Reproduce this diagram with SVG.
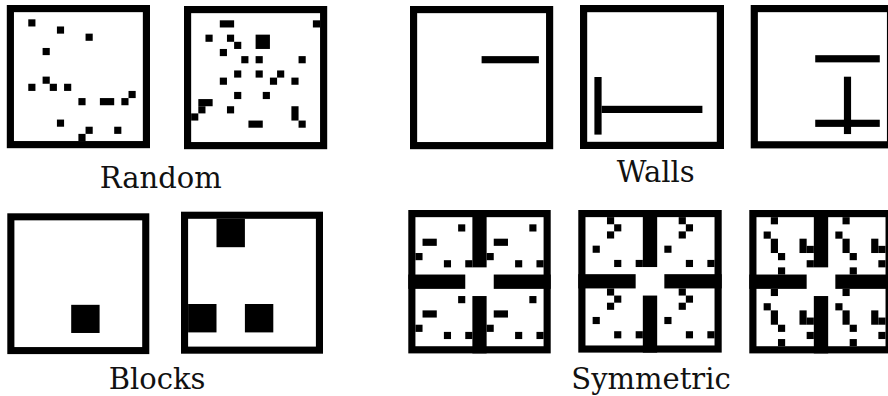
<svg xmlns="http://www.w3.org/2000/svg" xmlns:xlink="http://www.w3.org/1999/xlink" width="888" height="396" viewBox="0 0 888 396">
<style>
.frame{fill:#fff;stroke:#000;stroke-width:1}
.c{fill:#000}
.lbl{font-family:"DejaVu Serif","Liberation Serif",serif;font-size:29px;fill:#111;text-anchor:middle}
</style>
<defs>
<g id="q8">
<rect class="c" x="7" y="2" width="1" height="1"/>
<rect class="c" x="2" y="4" width="2" height="1"/>
<rect class="c" x="1" y="6" width="1" height="1"/>
<rect class="c" x="5" y="7" width="1" height="1"/>
<rect class="c" x="8" y="7" width="1" height="1"/>
</g>
<g id="q9">
<rect class="c" x="4" y="1" width="1" height="1"/>
<rect class="c" x="5" y="2" width="1" height="1"/>
<rect class="c" x="4" y="3" width="1" height="1"/>
<rect class="c" x="2" y="5" width="1" height="1"/>
<rect class="c" x="5" y="7" width="1" height="1"/>
<rect class="c" x="8" y="7" width="1" height="1"/>
</g>
<g id="q10">
<rect class="c" x="3" y="1" width="1" height="1"/>
<rect class="c" x="2" y="3" width="1" height="1"/>
<rect class="c" x="3" y="4" width="1" height="2"/>
<rect class="c" x="4" y="6" width="1" height="1"/>
<rect class="c" x="7" y="4" width="1" height="2"/>
<rect class="c" x="8" y="5" width="1" height="1"/>
<rect class="c" x="8" y="7" width="1" height="1"/>
<rect class="c" x="4" y="8" width="1" height="1"/>
</g>
<g id="cross">
<rect class="c" x="9" y="0" width="2" height="8"/>
<rect class="c" x="9" y="12" width="2" height="8"/>
<rect class="c" x="0" y="9" width="8" height="2"/>
<rect class="c" x="12" y="9" width="8" height="2"/>
</g>
</defs>

<g id="random1" transform="translate(6.8,5) scale(7.16)">
<rect class="frame" x="0.5" y="0.5" width="19" height="19"/>
<rect class="c" x="3" y="2" width="1" height="1"/>
<rect class="c" x="7" y="3" width="1" height="1"/>
<rect class="c" x="11" y="4" width="1" height="1"/>
<rect class="c" x="5" y="6" width="1" height="1"/>
<rect class="c" x="5" y="10" width="1" height="1"/>
<rect class="c" x="3" y="11" width="1" height="1"/>
<rect class="c" x="6" y="11" width="1" height="1"/>
<rect class="c" x="8" y="11" width="1" height="1"/>
<rect class="c" x="10" y="13" width="1" height="1"/>
<rect class="c" x="13" y="13" width="2" height="1"/>
<rect class="c" x="16" y="13" width="1" height="1"/>
<rect class="c" x="17" y="12" width="1" height="1"/>
<rect class="c" x="7" y="16" width="1" height="1"/>
<rect class="c" x="11" y="17" width="1" height="1"/>
<rect class="c" x="15" y="17" width="1" height="1"/>
<rect class="c" x="10" y="18" width="1" height="1"/>
</g>

<g id="random2" transform="translate(184,6) scale(7.16)">
<rect class="frame" x="0.5" y="0.5" width="19" height="19"/>
<rect class="c" x="5" y="2" width="2" height="1"/>
<rect class="c" x="18" y="2" width="1" height="1"/>
<rect class="c" x="3" y="4" width="1" height="1"/>
<rect class="c" x="6" y="4" width="1" height="1"/>
<rect class="c" x="7" y="5" width="1" height="1"/>
<rect class="c" x="10" y="4" width="2" height="2"/>
<rect class="c" x="5" y="6" width="1" height="1"/>
<rect class="c" x="8" y="7" width="1" height="1"/>
<rect class="c" x="10" y="7" width="1" height="1"/>
<rect class="c" x="16" y="7" width="1" height="1"/>
<rect class="c" x="7" y="9" width="1" height="1"/>
<rect class="c" x="10" y="9" width="1" height="1"/>
<rect class="c" x="13" y="9" width="1" height="1"/>
<rect class="c" x="12" y="10" width="1" height="1"/>
<rect class="c" x="5" y="10" width="1" height="1"/>
<rect class="c" x="15" y="10" width="1" height="1"/>
<rect class="c" x="7" y="12" width="1" height="1"/>
<rect class="c" x="11" y="12" width="1" height="1"/>
<rect class="c" x="2" y="13" width="2" height="1"/>
<rect class="c" x="2" y="14" width="1" height="1"/>
<rect class="c" x="1" y="15" width="1" height="1"/>
<rect class="c" x="6" y="14" width="1" height="1"/>
<rect class="c" x="15" y="14" width="1" height="2"/>
<rect class="c" x="16" y="16" width="1" height="1"/>
<rect class="c" x="9" y="16" width="2" height="1"/>
</g>

<g id="walls1" transform="translate(410,6) scale(7.16)">
<rect class="frame" x="0.5" y="0.5" width="19" height="19"/>
<rect class="c" x="10" y="7" width="8" height="1"/>
</g>

<g id="walls2" transform="translate(580,5) scale(7.2)">
<rect class="frame" x="0.5" y="0.5" width="19" height="19"/>
<rect class="c" x="2" y="10" width="1" height="8"/>
<rect class="c" x="3" y="14" width="14" height="1"/>
</g>

<g id="walls3" transform="translate(750.7,5) scale(7.17)">
<rect class="frame" x="0.5" y="0.5" width="19" height="19"/>
<rect class="c" x="9" y="7" width="9" height="1"/>
<rect class="c" x="13" y="10" width="1" height="8"/>
<rect class="c" x="9" y="16" width="9" height="1"/>
</g>

<g id="blocks1" transform="translate(7.3,213.3) scale(7.1,7.04)">
<rect class="frame" x="0.5" y="0.5" width="19" height="19"/>
<rect class="c" x="9" y="13" width="4" height="4"/>
</g>

<g id="blocks2" transform="translate(181,211.7) scale(7.1)">
<rect class="frame" x="0.5" y="0.5" width="19" height="19"/>
<rect class="c" x="5" y="1" width="4" height="4"/>
<rect class="c" x="1" y="13" width="4" height="4"/>
<rect class="c" x="9" y="13" width="4" height="4"/>
</g>

<g id="sym1" transform="translate(408.3,210) scale(7.12,7.17)">
<rect class="frame" x="0.5" y="0.5" width="19" height="19"/>
<use xlink:href="#cross"/>
<use xlink:href="#q8"/>
<use xlink:href="#q8" x="10"/>
<use xlink:href="#q8" y="10"/>
<use xlink:href="#q8" x="10" y="10"/>
</g>

<g id="sym2" transform="translate(578.3,210) scale(7.17,7.13)">
<rect class="frame" x="0.5" y="0.5" width="19" height="19"/>
<use xlink:href="#cross"/>
<use xlink:href="#q9"/>
<use xlink:href="#q9" x="10"/>
<use xlink:href="#q9" y="10"/>
<use xlink:href="#q9" x="10" y="10"/>
</g>

<g id="sym3" transform="translate(749.3,210) scale(7.17)">
<rect class="frame" x="0.5" y="0.5" width="19" height="19"/>
<use xlink:href="#cross"/>
<use xlink:href="#q10"/>
<use xlink:href="#q10" x="10"/>
<use xlink:href="#q10" y="10"/>
<use xlink:href="#q10" x="10" y="10"/>
</g>

<g id="labels">
<text class="lbl" x="160.7" y="188.3">Random</text>
<text class="lbl" x="655.7" y="181.7">Walls</text>
<text class="lbl" x="157" y="389">Blocks</text>
<text class="lbl" x="651" y="388.5">Symmetric</text>
</g>
</svg>
